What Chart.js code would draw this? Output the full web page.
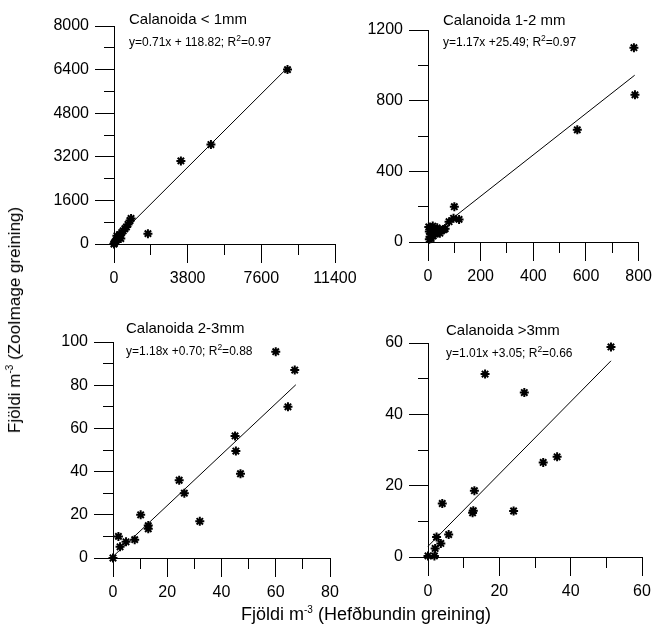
<!DOCTYPE html>
<html>

<head>
    <meta charset="utf-8">
    <title>Calanoida - ZooImage og hefðbundin greining</title>
    <script src="https://cdn.jsdelivr.net/npm/chart.js@4.4.1/dist/chart.umd.min.js"></script>
    <style>
    html,
    body {
        margin: 0;
        padding: 0;
        background: #fff;
    }

    #wrap {
        position: relative;
        width: 658px;
        height: 629px;
        font-family: "Liberation Sans", Arial, sans-serif;
    }

    #wrap canvas {
        position: absolute;
        left: 0;
        top: 0;
    }

    .axtitle {
        position: absolute;
        font-size: 17px;
        color: #000;
        white-space: nowrap;
        line-height: 1;
    }

    .axtitle sup {
        font-size: 10px;
        vertical-align: 7px;
    }

    #ytitle {
        left: 14px;
        top: 320px;
        transform: translate(-50%, -50%) rotate(-90deg);
    }

    #xtitle {
        left: 366px;
        top: 614px;
        font-size: 18px;
        transform: translate(-50%, -50%);
    }
    </style>
</head>

<body>
    <div id="wrap">
        <canvas id="c1" width="658" height="629"></canvas>
        <canvas id="c2" width="658" height="629"></canvas>
        <canvas id="c3" width="658" height="629"></canvas>
        <canvas id="c4" width="658" height="629"></canvas>
        <div class="axtitle" id="ytitle">Fjöldi m<sup>-3</sup> (ZooImage greining)</div>
        <div class="axtitle" id="xtitle">Fjöldi m<sup>-3</sup> (Hefðbundin greining)</div>
    </div>
    <script>
    // Calanoida < 1mm
    var lt1X = [8950, 5000, 3450, 1750, 880, 830, 720, 640, 560, 470, 400, 330, 260, 190, 130, 80, 40, 10, 0, 150, 350];
    var lt1Y = [6400, 3650, 3050, 380, 940, 860, 720, 620, 560, 480, 420, 340, 260, 200, 150, 100, 60, 20, 0, 300, 200];
    var lt1FitX = [0, 8950];
    var lt1FitY = [120, 6470];

    // Calanoida 1-2 mm
    var mm12X = [782, 786, 567, 100, 118, 97, 80, 5, 8, 12, 15, 5, 10, 18, 25, 30, 35, 40, 50, 60, 65, 20, 28, 45, 3];
    var mm12Y = [1100, 833, 635, 200, 128, 134, 115, 15, 30, 20, 45, 60, 80, 90, 70, 55, 80, 60, 65, 70, 75, 35, 45, 50, 85];
    var mm12FitX = [0, 785];
    var mm12FitY = [25, 944];

    // Calanoida 2-3mm
    var mm23X = [60, 67, 64.5, 45, 45.3, 47, 24.4, 26.3, 32, 10.2, 13, 13, 8, 4.8, 2.6, 2, 0];
    var mm23Y = [95.5, 87, 70, 56.5, 49.5, 39, 36, 30, 17, 20, 15, 13.5, 8.5, 7.5, 5.2, 10, 0];
    var mm23FitX = [0, 67.4];
    var mm23FitY = [0.7, 80.2];

    // Calanoida >3mm
    var gt3X = [51.3, 16, 27, 32.3, 36.2, 13, 12.7, 12.5, 24, 4, 5.8, 2.4, 3.6, 2, 1.8, 0];
    var gt3Y = [58.9, 51.3, 46.1, 26.5, 28.1, 18.6, 13, 12.4, 12.9, 15, 6.3, 5.6, 3.8, 2.4, 0.3, 0.3];
    var gt3FitX = [0, 51.3];
    var gt3FitY = [3.0, 55];

    var titles = ['Calanoida < 1mm', 'Calanoida 1-2 mm', 'Calanoida 2-3mm', 'Calanoida >3mm'];
    var eqText = ['y=0.71x + 118.82; R', 'y=1.17x +25.49; R', 'y=1.18x +0.70; R', 'y=1.01x +3.05; R'];
    var r2Text = ['=0.97', '=0.97', '=0.88', '=0.66'];

    // axis ranges: max, step between ticks, step between labelled ticks
    var xMax = [11400, 800, 80, 60];
    var xStep = [1900, 100, 10, 10];
    var xMajor = [3800, 200, 20, 20];
    var yMax = [8000, 1200, 100, 60];
    var yStep = [800, 200, 10, 10];
    var yMajor = [1600, 400, 20, 20];

    var FONT = '"Liberation Sans", Arial, sans-serif';

    // where each plot area sits on the page
    var areas = [
        { l: 114, t: 26, r: 335, b: 244, dx: 15, titleDy: -6, eqDy: 17 },
        { l: 428, t: 30, r: 641, b: 242, dx: 15, titleDy: -9, eqDy: 13 },
        { l: 113, t: 342, r: 330, b: 558, dx: 13, titleDy: -13, eqDy: 10 },
        { l: 428, t: 343, r: 642, b: 557, dx: 18, titleDy: -12, eqDy: 11 }
    ];

    function toPoints(xs, ys) {
        return xs.map(function(x, i) { return { x: x, y: ys[i] }; });
    }

    function isMajor(v, major) {
        var r = Math.abs(v % major);
        return r < 1e-6 || Math.abs(r - major) < 1e-6;
    }

    // title + regression equation (with R² superscript) inside each panel
    var panelText = {
        id: 'panelText',
        afterDraw: function(chart, args, opts) {
            var ctx = chart.ctx;
            var a = chart.chartArea;
            var x = a.left + opts.dx;
            ctx.save();
            ctx.fillStyle = '#000';
            ctx.textAlign = 'left';
            ctx.textBaseline = 'middle';
            ctx.font = '15px ' + FONT;
            ctx.fillText(opts.title, x, a.top + opts.titleDy);
            var y = a.top + opts.eqDy;
            ctx.font = '12px ' + FONT;
            ctx.fillText(opts.eq, x, y);
            var w = ctx.measureText(opts.eq).width;
            ctx.font = '8.5px ' + FONT;
            ctx.fillText('2', x + w, y - 4);
            var w2 = ctx.measureText('2').width;
            ctx.font = '12px ' + FONT;
            ctx.fillText(opts.r2, x + w + w2, y);
            ctx.restore();
        }
    };

    function axis(pos, max, step, major, size) {
        return {
            type: 'linear',
            position: pos,
            min: 0,
            max: max,
            border: { display: true, color: '#000', width: 1 },
            grid: {
                drawOnChartArea: false,
                tickLength: 19,
                tickColor: '#000',
                tickWidth: 1,
                // short ticks for the unlabelled steps
                tickBorderDash: function(c) {
                    if (!c.tick || isMajor(c.tick.value, major)) return [];
                    return pos === 'left' ? [0, 9, 10, 100] : [10, 100];
                }
            },
            ticks: {
                stepSize: step,
                autoSkip: false,
                maxRotation: 0,
                padding: 6,
                color: '#000',
                font: { family: FONT, size: 16 },
                callback: function(v) {
                    return isMajor(v, major) ? String(v) : '';
                }
            },
            afterFit: function(s) {
                if (pos === 'left') s.width = size;
                else s.height = size;
            }
        };
    }

    function makePanel(id, i, xs, ys, fitX, fitY) {
        var a = areas[i];
        var ctx = document.getElementById(id).getContext('2d');
        return new Chart(ctx, {
            type: 'scatter',
            data: {
                datasets: [{
                    data: toPoints(xs, ys),
                    pointStyle: 'star',
                    pointRadius: 4.5,
                    pointBorderWidth: 2,
                    borderColor: '#000',
                    backgroundColor: '#000',
                    clip: false
                }, {
                    data: toPoints(fitX, fitY),
                    showLine: true,
                    pointRadius: 0,
                    borderColor: '#000',
                    borderWidth: 1,
                    clip: false
                }]
            },
            options: {
                responsive: false,
                animation: false,
                events: [],
                layout: {
                    padding: { left: 0, top: a.t, right: 658 - a.r, bottom: 629 - a.b - 40 }
                },
                scales: {
                    x: axis('bottom', xMax[i], xStep[i], xMajor[i], 40),
                    y: axis('left', yMax[i], yStep[i], yMajor[i], a.l)
                },
                plugins: {
                    legend: { display: false },
                    tooltip: { enabled: false },
                    panelText: {
                        title: titles[i],
                        eq: eqText[i],
                        r2: r2Text[i],
                        dx: a.dx,
                        titleDy: a.titleDy,
                        eqDy: a.eqDy
                    }
                }
            },
            plugins: [panelText]
        });
    }

    makePanel('c1', 0, lt1X, lt1Y, lt1FitX, lt1FitY);
    makePanel('c2', 1, mm12X, mm12Y, mm12FitX, mm12FitY);
    makePanel('c3', 2, mm23X, mm23Y, mm23FitX, mm23FitY);
    makePanel('c4', 3, gt3X, gt3Y, gt3FitX, gt3FitY);
    </script>
</body>

</html>
